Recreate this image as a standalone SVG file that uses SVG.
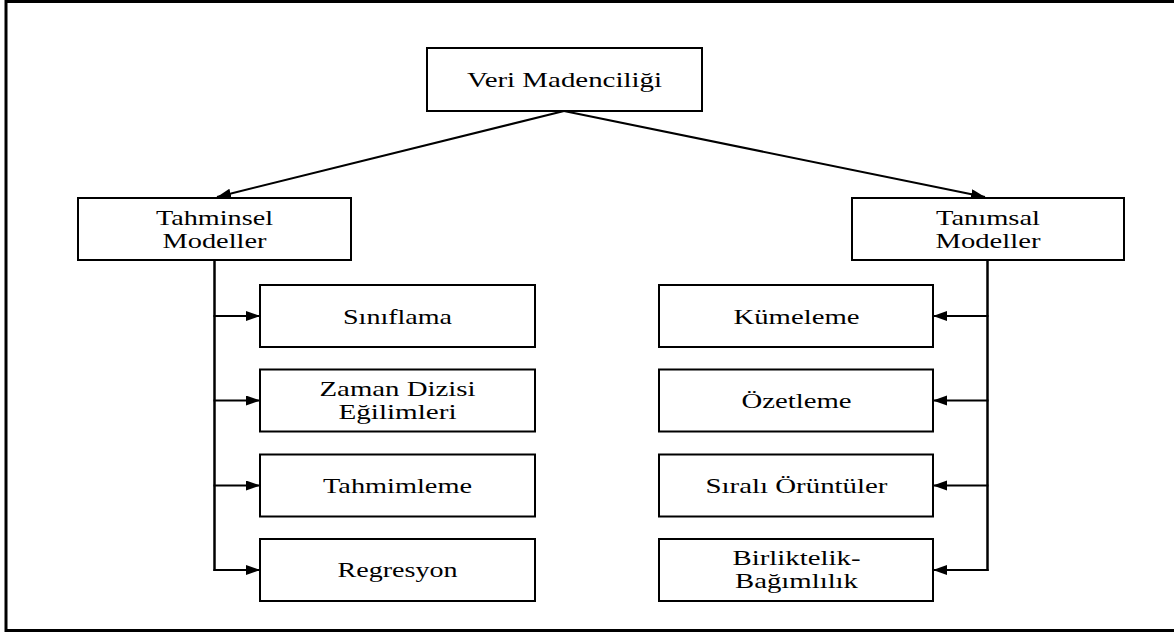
<svg xmlns="http://www.w3.org/2000/svg" width="1174" height="641" viewBox="0 0 1174 641">
<style>
.box{fill:#fff;stroke:#000;stroke-width:2}
.lbl{font-family:"Liberation Serif","Times New Roman",serif;font-size:22px;fill:#000;text-anchor:middle}
.ln{fill:none;stroke:#000;stroke-width:2}
.trunk{fill:none;stroke:#000;stroke-width:2.5}
</style>
<defs>
<marker id="ah" markerUnits="userSpaceOnUse" markerWidth="15" markerHeight="11" refX="14" refY="5" orient="auto">
<path d="M0,0 L14,5 L0,10 z" fill="#000"/>
</marker>
</defs>
<rect width="1174" height="641" fill="#fff"/>
<rect x="6" y="1.5" width="1180" height="629" fill="none" stroke="#000" stroke-width="3"/>

<g id="connectors">
<line class="ln" x1="564" y1="111" x2="217" y2="197" marker-end="url(#ah)"/>
<line class="ln" x1="564" y1="111" x2="985" y2="197" marker-end="url(#ah)"/>
<path class="trunk" d="M214.5,260 V571"/>
<line class="ln" x1="213.5" y1="316" x2="260" y2="316" marker-end="url(#ah)"/>
<line class="ln" x1="213.5" y1="400.5" x2="260" y2="400.5" marker-end="url(#ah)"/>
<line class="ln" x1="213.5" y1="485.5" x2="260" y2="485.5" marker-end="url(#ah)"/>
<line class="ln" x1="213.5" y1="570" x2="260" y2="570" marker-end="url(#ah)"/>
<path class="trunk" d="M987.5,260 V571"/>
<line class="ln" x1="988.5" y1="316" x2="933" y2="316" marker-end="url(#ah)"/>
<line class="ln" x1="988.5" y1="400.5" x2="933" y2="400.5" marker-end="url(#ah)"/>
<line class="ln" x1="988.5" y1="485.5" x2="933" y2="485.5" marker-end="url(#ah)"/>
<line class="ln" x1="988.5" y1="570" x2="933" y2="570" marker-end="url(#ah)"/>
</g>

<g id="veri-madenciligi">
<rect class="box" x="427" y="48" width="275" height="63"/>
<text class="lbl" x="564.5" y="87" textLength="195" lengthAdjust="spacingAndGlyphs">Veri Madenciliği</text>
</g>
<g id="tahminsel-modeller">
<rect class="box" x="78" y="198" width="273" height="62"/>
<text class="lbl" x="214.5" y="225" textLength="117" lengthAdjust="spacingAndGlyphs">Tahminsel</text>
<text class="lbl" x="214.5" y="248" textLength="104" lengthAdjust="spacingAndGlyphs">Modeller</text>
</g>
<g id="tanimsal-modeller">
<rect class="box" x="852" y="198" width="272" height="62"/>
<text class="lbl" x="988" y="225" textLength="104" lengthAdjust="spacingAndGlyphs">Tanımsal</text>
<text class="lbl" x="988" y="248" textLength="105" lengthAdjust="spacingAndGlyphs">Modeller</text>
</g>

<g id="siniflama">
<rect class="box" x="260" y="285" width="275" height="62"/>
<text class="lbl" x="397.5" y="323.5" textLength="109" lengthAdjust="spacingAndGlyphs">Sınıflama</text>
</g>
<g id="zaman-dizisi">
<rect class="box" x="260" y="369.5" width="275" height="62"/>
<text class="lbl" x="397.5" y="395.5" textLength="156" lengthAdjust="spacingAndGlyphs">Zaman Dizisi</text>
<text class="lbl" x="397.5" y="418.5" textLength="118" lengthAdjust="spacingAndGlyphs">Eğilimleri</text>
</g>
<g id="tahmimleme">
<rect class="box" x="260" y="454.5" width="275" height="62"/>
<text class="lbl" x="397.5" y="492.5" textLength="149" lengthAdjust="spacingAndGlyphs">Tahmimleme</text>
</g>
<g id="regresyon">
<rect class="box" x="260" y="539" width="275" height="62"/>
<text class="lbl" x="397.5" y="577" textLength="120" lengthAdjust="spacingAndGlyphs">Regresyon</text>
</g>

<g id="kumeleme">
<rect class="box" x="659" y="285" width="274" height="62"/>
<text class="lbl" x="796.5" y="323.5" textLength="126" lengthAdjust="spacingAndGlyphs">Kümeleme</text>
</g>
<g id="ozetleme">
<rect class="box" x="659" y="369.5" width="274" height="62"/>
<text class="lbl" x="796.5" y="407.5" textLength="110" lengthAdjust="spacingAndGlyphs">Özetleme</text>
</g>
<g id="sirali-oruntuler">
<rect class="box" x="659" y="454.5" width="274" height="62"/>
<text class="lbl" x="796.5" y="492.5" textLength="182" lengthAdjust="spacingAndGlyphs">Sıralı Örüntüler</text>
</g>
<g id="birliktelik-bagimlilik">
<rect class="box" x="659" y="539" width="274" height="62"/>
<text class="lbl" x="796.5" y="565" textLength="128" lengthAdjust="spacingAndGlyphs">Birliktelik-</text>
<text class="lbl" x="796.5" y="588" textLength="123" lengthAdjust="spacingAndGlyphs">Bağımlılık</text>
</g>
</svg>
